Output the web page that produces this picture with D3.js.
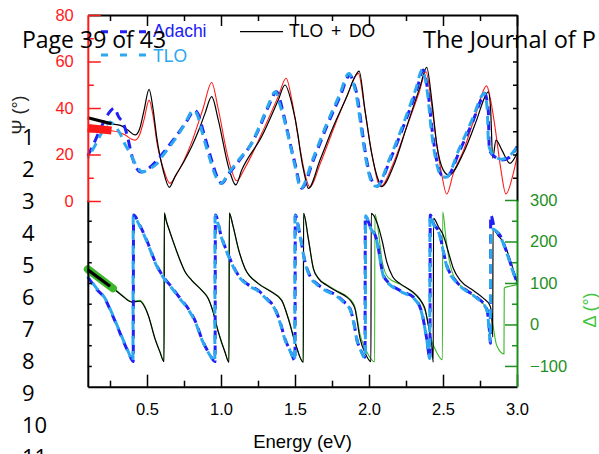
<!DOCTYPE html>
<html><head><meta charset="utf-8">
<script src="https://cdn.jsdelivr.net/npm/d3@7"></script>
<style>body{margin:0;background:#fff;} svg{display:block;}</style>
</head><body><svg id="c" width="599" height="454"></svg>
<script>
// ---------- data ----------
const xTicks = [0.5, 1.0, 1.5, 2.0, 2.5, 3.0];
const xMinor = [0.25, 0.75, 1.25, 1.75, 2.25, 2.75];
const psiTicks = [0, 20, 40, 60, 80];
const psiMinor = [10, 30, 50, 70];
const deltaTicks = [-100, 0, 100, 200, 300];
const deltaMinor = [-50, 50, 150, 250];
const lineNumbers = ["1","2","3","4","5","6","7","8","9","10","11"];

// Psi (deg) vs energy (eV)
const psiAdachi = [[0.10,19.4],[0.15,26],[0.20,33],[0.25,38.5],[0.279,39.9],[0.31,36],[0.335,34],[0.363,29],[0.40,19],[0.43,14],[0.46,12.5],[0.52,14.5],[0.60,20],[0.68,26.5],[0.76,33.5],[0.824,39],[0.845,37.5],[0.88,30],[0.93,19],[0.97,11],[1.005,7.6],[1.05,11.5],[1.13,18],[1.207,24.8],[1.27,33],[1.32,40.6],[1.376,47],[1.40,43],[1.432,34.8],[1.47,24],[1.50,16.2],[1.545,5.5],[1.624,17.6],[1.714,32],[1.804,44.9],[1.872,54.2],[1.895,51],[1.917,46.3],[1.95,32],[1.984,17.6],[2.018,9],[2.056,6.5],[2.142,17.6],[2.232,32],[2.322,47.7],[2.367,56.3],[2.385,52],[2.40,46.3],[2.424,32],[2.457,17.6],[2.49,11.2],[2.525,10.5],[2.615,22],[2.705,34.8],[2.768,44.9],[2.784,46.3],[2.80,42],[2.806,39],[2.813,22],[2.85,19],[2.897,17.6],[2.953,19],[3.0,23.4]];
const psiTlo = [[0.10,18.5],[0.15,24],[0.20,30],[0.25,34],[0.28,32.5],[0.318,29],[0.35,24.5],[0.385,20.6],[0.43,15],[0.47,12.5],[0.52,14],[0.566,16],[0.60,19],[0.678,25.5],[0.75,32.5],[0.815,39],[0.84,37],[0.875,29],[0.925,18],[0.965,10.5],[1.0,7.6],[1.05,11.9],[1.13,18.5],[1.207,24.8],[1.265,33],[1.315,40.6],[1.368,47],[1.395,42],[1.428,34.8],[1.468,24],[1.50,15],[1.54,5.5],[1.618,17.6],[1.71,32.5],[1.80,45.5],[1.865,54.8],[1.89,51.5],[1.914,45.5],[1.948,31],[1.982,17],[2.015,8.5],[2.052,6.2],[2.138,18],[2.228,32.5],[2.318,48.5],[2.36,56.5],[2.38,52.5],[2.397,45.5],[2.42,31],[2.454,17],[2.488,10.8],[2.52,10.2],[2.61,22.5],[2.70,35.5],[2.762,45.2],[2.778,46.5],[2.795,42],[2.80,38],[2.808,24],[2.845,19.5],[2.895,18],[2.95,19.5],[3.0,23]];
const psiTloDo = [[0.10,35.8],[0.18,34.5],[0.26,33.2],[0.32,32.5],[0.37,30.5],[0.42,28.4],[0.45,31],[0.48,39],[0.514,48],[0.54,40],[0.565,27.7],[0.61,13],[0.651,5.9],[0.689,10.5],[0.75,17],[0.802,23.4],[0.85,30.5],[0.892,37.7],[0.937,44.9],[0.982,34.8],[1.05,14.8],[1.10,6.9],[1.14,13.3],[1.275,27.7],[1.387,43.4],[1.432,49.9],[1.478,42],[1.522,27.7],[1.534,21.9],[1.567,10.5],[1.59,5.4],[1.669,17.6],[1.759,32],[1.85,44.9],[1.905,53.5],[1.933,55.9],[1.973,39],[2.018,20.5],[2.063,9],[2.086,6.2],[2.164,14.8],[2.255,32],[2.345,49.2],[2.39,57.5],[2.424,43.4],[2.457,24.8],[2.502,13.3],[2.54,11.2],[2.637,20.5],[2.727,34.8],[2.784,44.9],[2.806,47],[2.822,39],[2.836,18.4],[2.858,26.2],[2.897,22],[2.953,16.2],[3.0,20.5]];
const psiExp = [[0.10,31.0],[0.18,30.6],[0.26,30.2],[0.30,29.8],[0.35,28.5],[0.40,26.5],[0.42,26.2],[0.45,28.5],[0.48,35],[0.514,43.4],[0.54,37],[0.57,24],[0.61,14],[0.655,7.6],[0.70,11.5],[0.80,25],[0.88,40],[0.937,51],[0.98,40],[1.05,18],[1.106,8.7],[1.16,14],[1.275,29],[1.387,45],[1.44,52.8],[1.48,43],[1.53,24],[1.57,11],[1.60,5.9],[1.67,16],[1.76,31],[1.85,45],[1.928,54.9],[1.97,40],[2.02,20],[2.079,6.2],[2.16,15.5],[2.25,31],[2.34,47],[2.385,55.6],[2.42,43],[2.46,23],[2.49,11.9],[2.525,3.0],[2.57,11.9],[2.64,22],[2.72,37],[2.795,49.5],[2.82,44],[2.851,32],[2.89,14],[2.925,3.0],[2.975,11.9],[3.0,19]];
const psiExpBand = [[0.10,31.4],[0.26,30.3]];
const psiTloDoFit = [[0.10,35.8],[0.26,33.2]];

// Delta (deg) vs energy (eV)
const deltaAdachi = [[0.10,114.5],[0.16,85],[0.216,62],[0.26,28],[0.306,-10.4],[0.34,-40],[0.374,-67],[0.407,-89.5],[0.409,263.7],[0.45,240],[0.498,203],[0.565,142.8],[0.62,110],[0.667,90],[0.72,65],[0.779,38],[0.83,5],[0.87,-34.6],[0.92,-70],[0.96,-89.5],[0.962,263.7],[1.0,215],[1.05,167],[1.117,118.6],[1.18,97],[1.252,82],[1.31,62],[1.365,38],[1.40,5],[1.432,-34.6],[1.47,-65],[1.50,-87],[1.502,263.7],[1.53,223],[1.568,150.7],[1.60,118],[1.647,98.5],[1.71,83],[1.782,70],[1.83,55],[1.872,38],[1.90,0],[1.917,-34.6],[1.945,-62],[1.973,-79],[1.975,259.6],[2.01,235],[2.05,207],[2.097,118.6],[2.14,98],[2.187,86.4],[2.24,77],[2.30,66],[2.356,29.8],[2.39,-34.6],[2.412,-83],[2.414,263.7],[2.44,240],[2.468,227],[2.525,142.8],[2.593,102],[2.66,82],[2.726,66],[2.795,38],[2.81,0],[2.818,-34.6],[2.82,-45],[2.822,263.7],[2.85,230],[2.885,215],[2.93,175],[2.975,126.6],[3.0,102]];
const deltaTlo = [[0.10,116],[0.16,87],[0.216,63],[0.26,30],[0.306,-9],[0.34,-38],[0.374,-66],[0.405,-88],[0.407,262],[0.45,238],[0.498,201],[0.565,141],[0.62,108],[0.667,88],[0.72,63],[0.779,36],[0.83,3],[0.87,-36],[0.92,-71],[0.958,-89],[0.960,262],[1.0,213],[1.05,165],[1.117,117],[1.18,95],[1.252,80],[1.31,60],[1.365,36],[1.40,3],[1.432,-36],[1.47,-66],[1.498,-87],[1.500,262],[1.53,221],[1.568,149],[1.60,116],[1.647,96.5],[1.71,81],[1.782,68],[1.83,53],[1.872,36],[1.90,-2],[1.917,-36],[1.945,-63],[1.975,-82],[1.977,262],[2.01,233],[2.05,205],[2.097,117],[2.14,96],[2.187,84.5],[2.24,75],[2.30,64],[2.356,28],[2.39,-36],[2.41,-82],[2.412,262],[2.44,238],[2.468,225],[2.525,141],[2.593,100],[2.66,80],[2.726,64],[2.795,36],[2.81,-5],[2.818,-40],[2.824,230],[2.85,228],[2.885,213],[2.93,173],[2.975,125],[3.0,100]];
const deltaTloDo = [[0.10,131],[0.18,110],[0.26,90],[0.33,70],[0.397,54],[0.425,55],[0.453,56],[0.48,45],[0.509,21.8],[0.554,-34.7],[0.588,-67],[0.615,-89.5],[0.617,268],[0.63,250],[0.655,223],[0.678,199],[0.72,158],[0.757,127],[0.802,106.5],[0.87,82],[0.914,62],[0.947,29.8],[0.982,-18.6],[1.027,-67],[1.054,-91],[1.056,268],[1.08,239.5],[1.117,183],[1.162,134.8],[1.252,98.5],[1.342,78],[1.41,58],[1.455,13.8],[1.50,-42.8],[1.556,-91],[1.558,268],[1.59,207],[1.624,134.8],[1.66,110],[1.714,94.4],[1.78,80],[1.849,66],[1.88,55],[1.905,38],[1.94,-34.6],[1.975,-70],[2.013,-89.5],[2.015,268],[2.06,239.5],[2.09,200],[2.12,150.7],[2.16,115],[2.21,98.5],[2.27,85],[2.322,70],[2.36,52],[2.378,38],[2.40,0],[2.424,-50.8],[2.434,-91],[2.436,255.7],[2.47,235],[2.502,215],[2.54,170],[2.57,134.8],[2.62,105],[2.705,82],[2.77,64],[2.817,46],[2.83,20],[2.836,-30.6],[2.838,231.5],[2.87,215],[2.907,199],[2.95,160],[3.0,102]];
const deltaExp = [[0.10,133],[0.18,112],[0.26,92],[0.33,71],[0.397,55],[0.425,57],[0.453,58],[0.48,47],[0.509,22],[0.554,-33],[0.588,-66],[0.615,-89.5],[0.617,270],[0.63,250],[0.655,222],[0.678,198],[0.72,157],[0.757,127],[0.802,107],[0.87,83],[0.914,63],[0.947,30],[0.982,-17],[1.027,-66],[1.054,-91],[1.056,270],[1.08,239],[1.117,183],[1.162,135],[1.252,99],[1.342,79],[1.41,59],[1.455,15],[1.50,-42],[1.556,-91],[1.558,268],[1.59,207],[1.624,136],[1.66,111],[1.714,96],[1.78,82],[1.849,68],[1.88,58],[1.905,42],[1.94,-25],[1.98,-62],[2.038,-90],[2.040,266],[2.06,233],[2.07,205],[2.09,150],[2.13,113],[2.21,97],[2.27,84],[2.322,68],[2.36,50],[2.38,32],[2.42,-35],[2.457,-67],[2.496,-85],[2.498,271.7],[2.52,207],[2.545,150],[2.58,110.6],[2.66,82],[2.76,54],[2.80,38],[2.829,13.8],[2.863,-50.8],[2.912,-71],[2.914,88],[2.95,92],[3.0,96]];
const deltaExpBand = [[0.10,133],[0.27,87]];
const deltaTloDoFit = [[0.10,132],[0.25,92]];

// ---------- colours ----------
const C = {
  adachi: "#2020f5", tlo: "#2da8f0", black: "#000", red: "#ff1a1a",
  green: "#3cb62a", greenAxis: "#1f8f1f", greenLabel: "#3fc63f"
};
const FONT = "'Liberation Sans', Arial, sans-serif";
const PAGEFONT = "'Open Sans', sans-serif";

// ---------- scales ----------
const svg = d3.select("#c");
const x = d3.scaleLinear().domain([0.1, 3.0]).range([87.8, 517]);
const yPsi = d3.scaleLinear().domain([0, 80]).range([201, 15]);
const yDel = d3.scaleLinear().domain([-150, 300]).range([386.7, 200]);

const linePsi = d3.line().x(d => x(d[0])).y(d => yPsi(d[1])).curve(d3.curveMonotoneX);
const lineDel = d3.line().x(d => x(d[0])).y(d => yDel(d[1])).curve(d3.curveMonotoneX);

function draw(gen, data, color, width, dash) {
  const p = svg.append("path").attr("d", gen(data)).attr("fill", "none")
    .attr("stroke", color).attr("stroke-width", width).attr("stroke-linejoin", "round");
  if (dash) p.attr("stroke-dasharray", dash);
  return p;
}

// ---------- curves ----------
draw(linePsi, psiExp, C.red, 1.1);
draw(linePsi, psiTloDo, C.black, 1.2);
draw(lineDel, deltaExp, C.green, 1.1);
draw(lineDel, deltaTloDo, C.black, 1.2);
draw(linePsi, psiAdachi, C.adachi, 3, "9,6");
draw(lineDel, deltaAdachi, C.adachi, 3, "9,6");
draw(linePsi, psiTlo, C.tlo, 3, "9,6").attr("stroke-dashoffset", 7);
draw(lineDel, deltaTlo, C.tlo, 3, "9,6").attr("stroke-dashoffset", 7);
draw(linePsi, psiExpBand, C.red, 8).attr("stroke-linecap", "butt");
draw(linePsi, psiTloDoFit, C.black, 3.2);
draw(lineDel, deltaExpBand, C.green, 8).attr("stroke-linecap", "round");
draw(lineDel, deltaTloDoFit, C.black, 3.2);

// ---------- axes ----------
function styleAxis(g, color, lw) {
  g.select(".domain").attr("stroke", color).attr("stroke-width", lw || 2);
  g.selectAll(".tick line").attr("stroke", color).attr("stroke-width", 1.5);
  g.selectAll(".tick text").attr("fill", color).style("font-family", FONT).style("font-size", "16.5px");
}
function noDomain(g) { g.select(".domain").remove(); }

// bottom
let g = svg.append("g").attr("transform", "translate(0,386.7)")
  .call(d3.axisBottom(x).tickValues(xTicks).tickSize(-12).tickSizeOuter(0).tickPadding(17).tickFormat(d3.format(".1f")));
styleAxis(g, "#000");
g = svg.append("g").attr("transform", "translate(0,386.7)")
  .call(d3.axisBottom(x).tickValues(xMinor).tickSize(-6).tickFormat(""));
styleAxis(g, "#000"); noDomain(g);
// top
g = svg.append("g").attr("transform", "translate(0,15)")
  .call(d3.axisTop(x).tickValues(xTicks).tickSize(-11).tickSizeOuter(0).tickFormat(""));
styleAxis(g, "#000");
g = svg.append("g").attr("transform", "translate(0,15)")
  .call(d3.axisTop(x).tickValues(xMinor).tickSize(-6).tickFormat(""));
styleAxis(g, "#000"); noDomain(g);
// left lower (black, mirrors Delta)
g = svg.append("g").attr("transform", "translate(87.8,0)")
  .call(d3.axisLeft(yDel).tickValues(deltaTicks.concat(deltaMinor).filter(v => v < 300)).tickSize(-4).tickSizeOuter(0).tickFormat(""));
styleAxis(g, "#000");
// left upper (red, Psi)
g = svg.append("g").attr("transform", "translate(87.8,0)")
  .call(d3.axisLeft(yPsi).tickValues(psiTicks).tickSize(-13).tickSizeOuter(0).tickPadding(14));
styleAxis(g, C.red);
g = svg.append("g").attr("transform", "translate(87.8,0)")
  .call(d3.axisLeft(yPsi).tickValues(psiMinor).tickSize(-6).tickFormat(""));
styleAxis(g, C.red); noDomain(g);
// right upper (black, mirrors Psi)
g = svg.append("g").attr("transform", "translate(517,0)")
  .call(d3.axisRight(yPsi).tickValues(psiTicks.concat(psiMinor).filter(v => v > 0 && v < 80)).tickSize(-4).tickSizeOuter(0).tickFormat(""));
styleAxis(g, "#000");
// right lower (green, Delta)
g = svg.append("g").attr("transform", "translate(517,0)")
  .call(d3.axisRight(yDel).tickValues(deltaTicks).tickSize(-12).tickSizeOuter(0).tickPadding(13));
styleAxis(g, C.greenAxis);
g = svg.append("g").attr("transform", "translate(517,0)")
  .call(d3.axisRight(yDel).tickValues(deltaMinor).tickSize(-5).tickFormat(""));
styleAxis(g, C.greenAxis); noDomain(g);

// ---------- axis titles ----------
svg.append("text").attr("x", 302.5).attr("y", 448).attr("text-anchor", "middle")
  .style("font-family", FONT).style("font-size", "18.5px").attr("fill", "#000").text("Energy (eV)");
svg.append("text").attr("transform", "translate(25,115) rotate(-90)").attr("text-anchor", "middle")
  .style("font-family", FONT).style("font-size", "18px").attr("fill", "#222").text("Ψ (°)");
svg.append("text").attr("transform", "translate(596,310) rotate(-90)").attr("text-anchor", "middle")
  .style("font-family", FONT).style("font-size", "18px").attr("fill", C.greenLabel).text("Δ (°)");

// ---------- legend ----------
const legend = [
  {label: "Adachi", color: C.adachi, dash: "7,12", x1: 101, x2: 147, y: 31.7, tx: 153, ty: 36.5, w: 3},
  {label: "TLO", color: C.tlo, dash: "7,12", x1: 101, x2: 147, y: 55, tx: 153, ty: 62, w: 3},
  {label: "TLO + DO", color: "#000", dash: null, x1: 240, x2: 283, y: 31.7, tx: 289, ty: 37, w: 1.2}
];
legend.forEach(l => {
  const ln = svg.append("line").attr("x1", l.x1).attr("x2", l.x2).attr("y1", l.y).attr("y2", l.y)
    .attr("stroke", l.color).attr("stroke-width", l.w);
  if (l.dash) ln.attr("stroke-dasharray", l.dash);
  svg.append("text").attr("x", l.tx).attr("y", l.ty).attr("fill", l.color)
    .style("font-family", FONT).style("font-size", "17.5px").style("word-spacing", "3px").text(l.label);
});

// ---------- page overlay ----------
svg.append("text").attr("x", 22).attr("y", 48).style("font-family", PAGEFONT).style("font-size", "23px")
  .attr("fill", "#000").text("Page 39 of 43");
svg.append("text").attr("x", 423).attr("y", 48).style("font-family", PAGEFONT).style("font-size", "23.5px")
  .attr("fill", "#000").text("The Journal of P");
lineNumbers.forEach((n, i) => {
  svg.append("text").attr("x", 22).attr("y", 145 + i * 32).style("font-family", PAGEFONT).style("font-size", "22px")
    .attr("fill", "#000").text(n);
});
</script></body></html>
